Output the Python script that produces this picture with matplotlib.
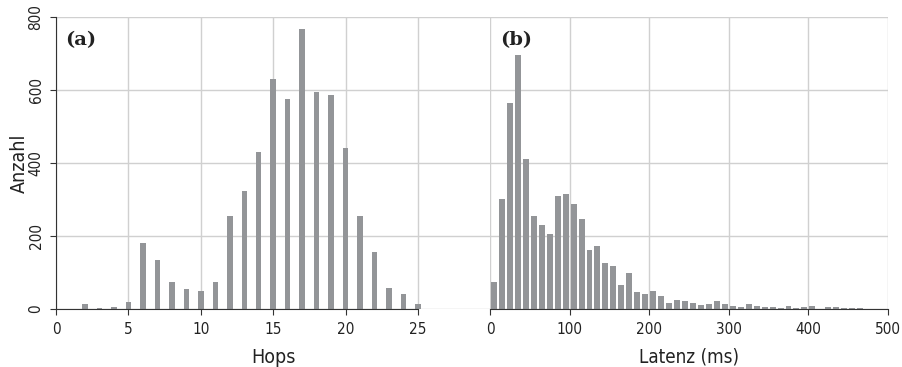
import matplotlib.pyplot as plt
import numpy as np

plt.rcParams['font.family'] = ['DejaVu Sans']
plt.rcParams['font.stretch'] = 'condensed'

# (a) number of hops
hops = np.arange(2, 26)
hops_count = [15, 3, 5, 18, 180, 134, 75, 54, 49, 75, 254, 322, 430, 629,
              576, 768, 594, 587, 441, 256, 155, 57, 42, 14]

# (b) latency, 10 ms bins starting at 0 ms
latency_bin_start = np.arange(0, 500, 10)
latency_count = [73, 301, 564, 695, 412, 254, 231, 205, 310, 315,
                 289, 247, 163, 173, 126, 117, 65, 100, 47, 42,
                 49, 36, 16, 26, 21, 16, 11, 14, 21, 15,
                 8, 5, 15, 8, 5, 5, 3, 7, 3, 5,
                 8, 1, 5, 5, 3, 3, 2, 1, 1, 1]

bar_color = "#939598"
grid_color = "#d0d0d0"
axis_color = "#333333"
text_color = "#222222"

fig = plt.figure(figsize=(9.02, 3.67), dpi=100)
ax_a = fig.add_axes([56 / 902, 58 / 367, 434 / 902, 292 / 367])
ax_b = fig.add_axes([490 / 902, 58 / 367, 398 / 902, 292 / 367])

for ax in (ax_a, ax_b):
    ax.set_ylim(0, 800)
    ax.set_yticks([0, 200, 400, 600, 800])
    ax.grid(True, color=grid_color, linewidth=1.0)
    ax.set_axisbelow(True)
    for side in ("top", "right", "left"):
        ax.spines[side].set_visible(False)
    ax.spines["bottom"].set_color(axis_color)
    ax.tick_params(axis="x", direction="out", length=4, color=axis_color,
                   labelcolor=text_color, labelsize=11, pad=5)
    ax.set_facecolor("none")

# left panel
ax_a.bar(hops, hops_count, width=0.38, color=bar_color, zorder=2)
ax_a.set_xlim(0, 29.97)
ax_a.set_xticks([0, 5, 10, 15, 20, 25])
ax_a.spines["bottom"].set_bounds(0, 25)
ax_a.spines["left"].set_visible(True)
ax_a.spines["left"].set_color(axis_color)
ax_a.tick_params(axis="y", direction="out", length=4, color=axis_color,
                 labelcolor=text_color, labelsize=11, pad=5)
for lbl in ax_a.get_yticklabels():
    lbl.set_rotation(90)
    lbl.set_va("center")
ax_a.set_xlabel("Hops", fontsize=14, labelpad=8, color=text_color)
ax_a.set_ylabel("Anzahl", fontsize=14, labelpad=0, color=text_color)
ax_a.text(0.02, 0.92, "(a)", transform=ax_a.transAxes, fontsize=14, fontweight="bold",
          family="DejaVu Serif", fontstretch="normal", va="center", ha="left", color=text_color)

# right panel
ax_b.bar(latency_bin_start + 5, latency_count, width=7.5, color=bar_color, zorder=2)
ax_b.set_xlim(0, 500)
ax_b.set_xticks([0, 100, 200, 300, 400, 500])
ax_b.tick_params(axis="y", left=False, labelleft=False)
ax_b.set_xlabel("Latenz (ms)", fontsize=13.5, labelpad=8, color=text_color)
ax_b.text(0.025, 0.92, "(b)", transform=ax_b.transAxes, fontsize=14, fontweight="bold",
          family="DejaVu Serif", fontstretch="normal", va="center", ha="left", color=text_color)

fig.savefig("out.png", dpi=100)
